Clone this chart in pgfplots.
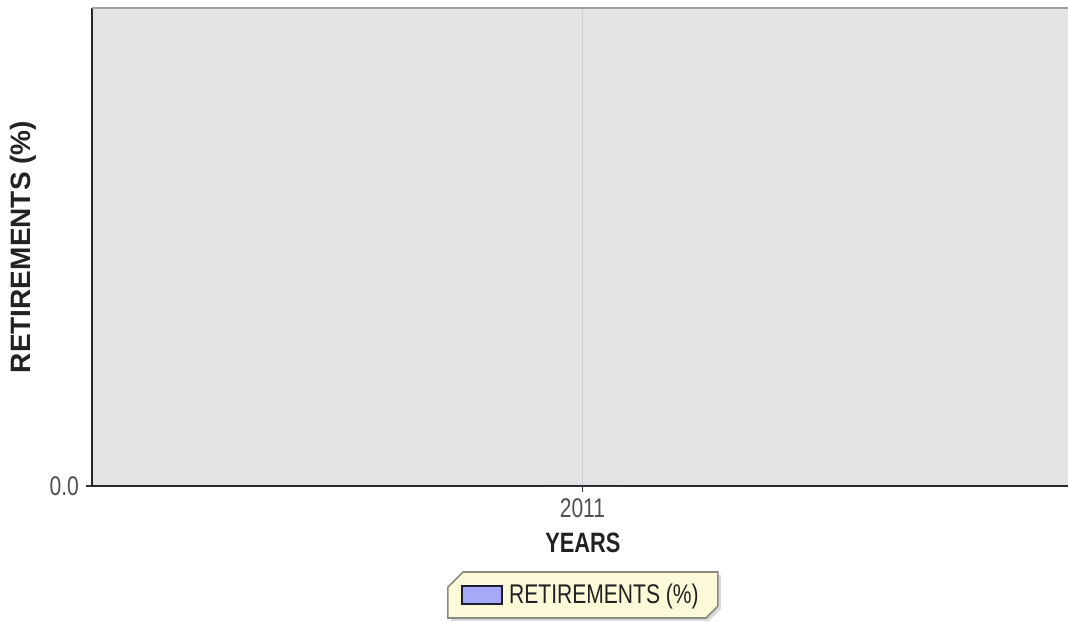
\documentclass[border=0pt]{standalone}
\usepackage{pgfplots}
\pgfplotsset{compat=1.18}
\usepackage{fontspec}
\setmainfont{Liberation Sans}[FakeStretch=0.78]
\newfontfamily\ylfont{Liberation Sans}
\definecolor{plotbg}{HTML}{E3E4E6}
\definecolor{gridc}{HTML}{CDCFD2}
\definecolor{tickc}{HTML}{505050}
\definecolor{labc}{HTML}{222222}
\definecolor{legbg}{HTML}{FCFAD9}
\definecolor{legdraw}{HTML}{8A8A80}
\definecolor{legshadow}{HTML}{DADADA}
\definecolor{legfill}{HTML}{A8A8F8}
\definecolor{legbar}{HTML}{1E1E30}
\begin{document}
\begin{tikzpicture}
\path[use as bounding box] (0,0) rectangle (534pt,310.5pt);
\begin{axis}[
  at={(46pt,67.5pt)}, anchor=south west,
  scale only axis, width=488pt, height=239pt, clip=false,
  xmin=2010, xmax=2011.99, ymin=0, ymax=1,
  xtick={2011}, xticklabels={2011},
  ytick={0}, yticklabels={0.0},
  axis x line*=bottom, axis y line*=left,
  axis line style={-, draw=black!85, line width=1.2pt},
  axis background/.style={fill=plotbg},
  xmajorgrids, grid style={draw=gridc, line width=0.6pt},
  tick style={draw=black!80, line width=0.8pt},
  tick align=outside, major tick length=3pt,
  ticklabel style={font=\fontsize{13.5}{15}\selectfont, text=tickc},
  xlabel={YEARS},
  xlabel style={font=\fontsize{14}{16}\selectfont\bfseries, text=labc,
    at={(axis description cs:0.503,0)}, anchor=base, yshift=-33pt},
  ylabel={RETIREMENTS (\%)},
  ylabel style={font=\ylfont\fontsize{14}{16}\selectfont\bfseries, text=labc,
    at={(axis description cs:-0.057,0.5)}, anchor=south, inner sep=0pt},
  legend style={at={(axis description cs:0.503,0)}, anchor=center, yshift=-54.5pt,
    draw=none, fill=none,
    font=\fontsize{13.5}{15}\selectfont, text=labc,
    inner xsep=2pt, inner ysep=0pt, row sep=0pt,
    nodes={inner ysep=0.5pt, inner xsep=3pt}},
  legend image code/.code={\draw[fill=legfill, draw=legbar, line width=1pt] (0pt,-4.5pt) rectangle (20pt,4.5pt);},
]
\addplot[ybar, bar width=40pt, fill=legfill, draw=none] coordinates {(2011,0)};
\addlegendentry{RETIREMENTS (\%)}
\draw[draw=gray!75, line width=1pt] (rel axis cs:0,1) -- (rel axis cs:1,1);
% legend frame (chamfered)
\fill[legshadow]
  ([shift={(-58.5pt,-44.5pt)}]axis description cs:0.503,0) --
  ([shift={(69pt,-44.5pt)}]axis description cs:0.503,0) --
  ([shift={(69pt,-61.5pt)}]axis description cs:0.503,0) --
  ([shift={(63pt,-67.5pt)}]axis description cs:0.503,0) --
  ([shift={(-66pt,-67.5pt)}]axis description cs:0.503,0) --
  ([shift={(-66pt,-52pt)}]axis description cs:0.503,0) -- cycle;
\filldraw[fill=legbg, draw=legdraw, line width=0.8pt]
  ([shift={(-60pt,-43pt)}]axis description cs:0.503,0) --
  ([shift={(67.5pt,-43pt)}]axis description cs:0.503,0) --
  ([shift={(67.5pt,-60pt)}]axis description cs:0.503,0) --
  ([shift={(61.5pt,-66pt)}]axis description cs:0.503,0) --
  ([shift={(-67.5pt,-66pt)}]axis description cs:0.503,0) --
  ([shift={(-67.5pt,-50.5pt)}]axis description cs:0.503,0) -- cycle;
\end{axis}
\end{tikzpicture}
\end{document}
